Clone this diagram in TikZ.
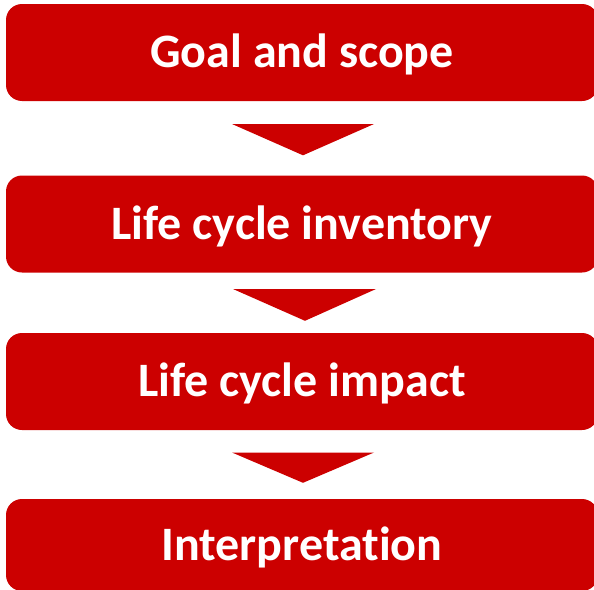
\documentclass[tikz,border=0pt]{standalone}
\usepackage{fontspec}
\setmainfont{Carlito}[Ligatures=NoCommon]
\usetikzlibrary{calc}
\definecolor{stepred}{HTML}{CC0000}
\begin{document}
\begin{tikzpicture}[x=1pt,y=-1pt,
  stagebox/.style={fill=stepred, rounded corners=16pt, minimum width=592pt,
    minimum height=97pt, inner sep=0pt, text=white,
    text height=30pt, text depth=0pt,
    font=\fontsize{48}{56}\selectfont\bfseries},
  downarrow/.style={fill=stepred}]
  \useasboundingbox (0,0) rectangle (594,589);
  \clip (0,0) rectangle (594,589);
  % the four stages
  \node[stagebox] (goal) at (302,52.5) {Goal and scope};
  \node[stagebox] (lci)  at (302,224) {Life cycle inventory};
  \node[stagebox] (lcia) at (302,381.5) {Life cycle impact};
  \node[stagebox, minimum height=92pt] (interp) at (302,545) {Interpretation};
  % triangular arrows between stages
  \fill[downarrow] (232,124) -- (374,124) -- ($(lci.north)+(1,-20)$) -- cycle;
  \fill[downarrow] (233,289) -- (376,289) -- ($(lcia.north)+(3,-12)$) -- cycle;
  \fill[downarrow] (232,452.5) -- (374,452.5) -- ($(interp.north)+(1,-16)$) -- cycle;
\end{tikzpicture}
\end{document}
